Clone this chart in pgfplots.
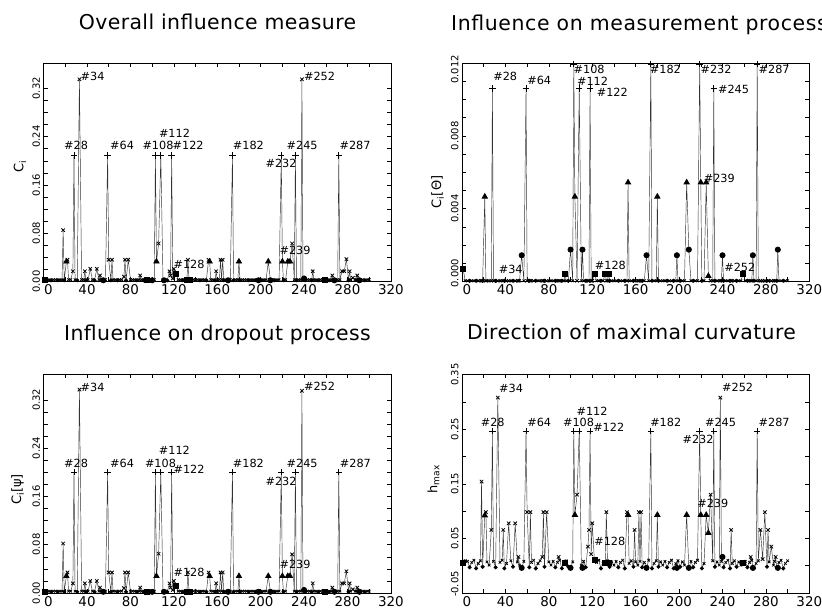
\documentclass[border=0pt]{standalone}
\usepackage{pgfplots}
\usepackage{pgfplotstable}
\pgfplotsset{compat=1.18}
\usepackage{fontspec}
\setmainfont{DejaVu Sans}

\newcommand\xtf{\fontsize{13.5}{15}\selectfont}
\newcommand\ytf{\fontsize{10}{12}\selectfont}
\newcommand\ylf{\fontsize{13}{15}\selectfont}
\newcommand\labf{\fontsize{11.3}{13}\selectfont}
\newcommand\ttlf{\fontsize{20.5}{24}\selectfont\addfontfeature{LetterSpace=2}}

% x  class  a=overall  b=measurement  d=dropout  h=hmax
\pgfplotstableread{
x c a b d h
1 S 0.002 0.0007 0.002 0.006
3 B 0.003 0.00004 0.003 0.009
5 B 0.003 0.00004 0.003 0.008
7 D 0.002 0.00004 0.002 -0.003
9 B 0.003 0.00004 0.003 0.006
11 B 0.003 0.00004 0.003 0.010
13 D 0.002 0.00004 0.002 -0.005
15 B 0.003 0.00004 0.003 0.004
17 B 0.003 0.00004 0.003 0.009
18 X 0.085 0.00004 0.082 0.154
19 D 0.002 0.00004 0.002 -0.002
21 T 0.033 0.00466 0.028 0.092
22 X 0.036 0.00004 0.034 0.098
23 B 0.003 0.00004 0.003 0.007
25 B 0.003 0.00004 0.003 0.001
27 X 0.017 0.00004 0.016 0.0655
28 P 0.209 0.0106 0.200 0.2465
29 B 0.003 0.00004 0.003 0.008
31 D 0.002 0.00004 0.002 -0.003
33 X 0.335 0.00004 0.337 0.3077
35 B 0.003 0.00004 0.003 0.006
37 B 0.003 0.00004 0.003 0.010
38 X 0.017 0.00004 0.016 0.0655
39 D 0.002 0.00004 0.002 -0.005
41 B 0.003 0.00004 0.003 0.004
43 X 0.021 0.00004 0.020 0.0776
45 B 0.003 0.00004 0.003 0.009
47 D 0.002 0.00004 0.002 -0.002
49 X 0.021 0.00004 0.020 0.0776
51 B 0.003 0.00004 0.003 0.007
52 X 0.010 0.00004 0.009 0.016
53 B 0.003 0.00004 0.003 0.001
55 O 0.002 0.00144 0.002 -0.004
57 B 0.003 0.00004 0.003 0.008
59 P 0.209 0.0106 0.200 0.2465
60 X 0.036 0.00004 0.034 0.098
62 D 0.002 0.00004 0.002 -0.003
63 X 0.036 0.00004 0.034 0.098
64 B 0.003 0.00004 0.003 0.006
66 B 0.003 0.00004 0.003 0.010
68 D 0.002 0.00004 0.002 -0.005
70 B 0.003 0.00004 0.003 0.004
72 B 0.003 0.00004 0.003 0.009
74 X 0.008 0.00004 0.008 0.016
75 X 0.036 0.00004 0.034 0.098
76 D 0.002 0.00004 0.002 -0.002
78 X 0.036 0.00004 0.034 0.098
80 B 0.003 0.00004 0.003 0.007
82 B 0.003 0.00004 0.003 0.001
84 B 0.003 0.00004 0.003 0.008
86 D 0.002 0.00004 0.002 -0.003
88 B 0.003 0.00004 0.003 0.006
89 X 0.010 0.00004 0.009 0.016
90 B 0.003 0.00004 0.003 0.010
92 D 0.002 0.00004 0.002 -0.005
94 B 0.003 0.00004 0.003 0.004
95 S 0.002 0.00043 0.002 0.005
96 B 0.003 0.00004 0.003 0.009
98 D 0.002 0.00004 0.002 -0.002
100 O 0.002 0.00175 0.002 -0.004
102 B 0.003 0.00004 0.003 0.007
103 P 0.209 0.01195 0.200 0.2465
104 T 0.033 0.00466 0.028 0.093
106 X 0.063 0.00004 0.065 0.130
108 P 0.209 0.0106 0.200 0.2465
110 B 0.003 0.00004 0.003 0.001
111 O 0.002 0.00175 0.002 -0.004
112 B 0.003 0.00004 0.003 0.008
114 D 0.002 0.00004 0.002 -0.003
116 X 0.017 0.00004 0.016 0.035
117 X 0.010 0.00004 0.009 0.0655
118 P 0.209 0.0106 0.200 0.2465
119 X 0.005 0.00004 0.005 0.021
120 X 0.021 0.00004 0.020 0.0776
122 S 0.012 0.00043 0.012 0.010
124 B 0.003 0.00004 0.003 0.006
126 B 0.003 0.00004 0.003 0.010
128 D 0.002 0.00004 0.002 -0.005
130 B 0.003 0.00004 0.003 0.004
132 S 0.002 0.00043 0.002 0.005
133 X 0.036 0.00004 0.034 0.098
134 B 0.003 0.00004 0.003 0.009
135 S 0.002 0.00043 0.002 0.005
136 D 0.002 0.00004 0.002 -0.002
138 B 0.003 0.00004 0.003 0.007
140 B 0.003 0.00004 0.003 0.001
142 B 0.003 0.00004 0.003 0.008
144 D 0.002 0.00004 0.002 -0.003
146 B 0.003 0.00004 0.003 0.006
148 B 0.003 0.00004 0.003 0.010
150 D 0.002 0.00004 0.002 -0.005
152 X 0.036 0.00004 0.034 0.098
153 T 0.033 0.00544 0.028 0.093
154 B 0.003 0.00004 0.003 0.004
156 B 0.003 0.00004 0.003 0.009
158 D 0.002 0.00004 0.002 -0.002
159 X 0.017 0.00004 0.016 0.0655
160 B 0.003 0.00004 0.003 0.007
162 B 0.003 0.00004 0.003 0.001
163 X 0.036 0.00004 0.034 0.098
164 B 0.003 0.00004 0.003 0.008
165 X 0.036 0.00004 0.034 0.098
166 D 0.002 0.00004 0.002 -0.003
168 B 0.003 0.00004 0.003 0.006
170 O 0.002 0.00144 0.002 -0.004
172 B 0.003 0.00004 0.003 0.010
174 P 0.209 0.01195 0.200 0.2465
175 D 0.002 0.00004 0.002 -0.005
177 B 0.003 0.00004 0.003 0.004
179 B 0.003 0.00004 0.003 0.009
180 T 0.033 0.00466 0.028 0.093
181 D 0.002 0.00004 0.002 -0.002
183 B 0.003 0.00004 0.003 0.007
185 B 0.003 0.00004 0.003 0.001
187 B 0.003 0.00004 0.003 0.008
189 D 0.002 0.00004 0.002 -0.003
191 B 0.003 0.00004 0.003 0.006
193 B 0.003 0.00004 0.003 0.010
195 D 0.002 0.00004 0.002 -0.005
197 B 0.003 0.00004 0.003 0.004
198 O 0.002 0.00144 0.002 -0.004
199 B 0.003 0.00004 0.003 0.009
201 D 0.002 0.00004 0.002 -0.002
203 B 0.003 0.00004 0.003 0.007
205 B 0.003 0.00004 0.003 0.001
207 T 0.033 0.00544 0.028 0.093
209 O 0.002 0.00175 0.002 -0.004
211 B 0.003 0.00004 0.003 0.008
213 D 0.002 0.00004 0.002 -0.003
215 B 0.003 0.00004 0.003 0.006
217 B 0.003 0.00004 0.003 0.010
219 P 0.209 0.01195 0.200 0.2465
220 T 0.033 0.00544 0.028 0.093
221 D 0.002 0.00004 0.002 -0.005
223 B 0.003 0.00004 0.003 0.004
225 T 0.033 0.00544 0.028 0.093
227 T 0.033 0.0003 0.028 0.060
229 X 0.063 0.00004 0.064 0.130
231 B 0.003 0.00004 0.003 0.009
232 P 0.209 0.0106 0.200 0.2465
233 D 0.002 0.00004 0.002 -0.002
235 B 0.003 0.00004 0.003 0.007
237 B 0.003 0.00004 0.003 0.001
238 X 0.335 0.00004 0.335 0.3077
239 B 0.003 0.00004 0.003 0.008
240 O 0.005 0.00144 0.005 0.016
241 D 0.002 0.00004 0.002 -0.003
243 B 0.003 0.00004 0.003 0.006
245 B 0.003 0.00004 0.003 0.010
247 D 0.002 0.00004 0.002 -0.005
248 X 0.017 0.00004 0.016 0.0655
249 B 0.003 0.00004 0.003 0.004
251 B 0.003 0.00004 0.003 0.009
253 D 0.002 0.00004 0.002 -0.002
255 B 0.003 0.00004 0.003 0.007
257 B 0.003 0.00004 0.003 0.001
259 S 0.002 0.00043 0.002 0.005
261 B 0.003 0.00004 0.003 0.008
263 D 0.002 0.00004 0.002 -0.003
265 B 0.003 0.00004 0.003 0.006
266 X 0.010 0.00004 0.009 0.016
267 B 0.003 0.00004 0.003 0.010
268 O 0.002 0.00144 0.002 -0.004
269 D 0.002 0.00004 0.002 -0.005
271 B 0.003 0.00004 0.003 0.004
272 P 0.209 0.01195 0.200 0.2465
273 B 0.003 0.00004 0.003 0.009
275 X 0.017 0.00004 0.016 0.0655
277 X 0.017 0.00004 0.016 0.012
279 X 0.037 0.00004 0.036 0.098
281 D 0.002 0.00004 0.002 -0.002
282 X 0.017 0.00004 0.016 0.0655
283 B 0.003 0.00004 0.003 0.007
285 X 0.006 0.00004 0.006 0.035
287 B 0.003 0.00004 0.003 0.001
288 B 0.003 0.00004 0.003 0.008
289 X 0.010 0.00004 0.009 0.016
290 D 0.002 0.00004 0.002 -0.003
291 O 0.002 0.00175 0.002 -0.004
292 B 0.003 0.00004 0.003 0.006
294 B 0.003 0.00004 0.003 0.010
296 D 0.002 0.00004 0.002 -0.005
298 B 0.003 0.00004 0.003 0.004
300 B 0.003 0.00004 0.003 0.009
}\data

\pgfplotsset{
  panel/.style={
    scale only axis, anchor=south west,
    width=347.3bp, height=218.5bp,
    xmin=0, xmax=320,
    xtick={0,40,80,120,160,200,240,280,320},
    xticklabels={\makebox[0pt][l]{\hspace{0.5pt}0},40,80,120,160,200,240,280,320},
    minor x tick num=1,
    scaled y ticks=false,
    tick align=inside,
    major tick length=4bp, minor tick length=4bp,
    tick style={black, line width=0.5pt},
    axis line style={line width=0.7pt},
    xticklabel style={font=\xtf},
    yticklabel style={font=\ytf, rotate=90, anchor=south},
    ylabel style={font=\ylf, anchor=center},
    clip=true,
  },
  ln/.style={black!80, line width=0.45pt, mark=none},
  sc/.style={scatter, only marks, line width=0.8pt,
    point meta=explicit symbolic,
    scatter/classes={
      P={mark=+, mark size=3.2bp, black},
      X={mark=x, mark size=2.4bp, black},
      T={mark=triangle*, mark size=3bp, black},
      O={mark=*, mark size=2.6bp, black},
      S={mark=square*, mark size=2.5bp, black},
      B={mark=x, mark size=1.8bp, black},
      D={mark=*, mark size=1.6bp, black}}},
}
\tikzset{lab/.style={font=\labf, inner sep=0pt}}

\begin{document}
\begin{tikzpicture}
\path[use as bounding box] (0,0) rectangle (822bp,610bp);

% Panel 1: Overall influence
\begin{axis}[panel, at={(43.6bp,328.5bp)},
  ymin=0, ymax=0.362,
  ytick={0,0.08,0.16,0.24,0.32}, yticklabels={0.00,0.08,0.16,0.24,0.32},
  minor y tick num=3,
  ylabel={C\textsubscript{i}},
  ylabel style={at={(axis description cs:-0.068,0.527)}}]
\addplot[ln] table[x=x,y=a]{\data};
\addplot[sc] table[x=x,y=a,meta=c]{\data};
\node[lab] at (axis cs:45.1,0.340) {\#34};
\node[lab] at (axis cs:29.9,0.2253) {\#28};
\node[lab] at (axis cs:72.3,0.2258) {\#64};
\node[lab] at (axis cs:105.4,0.2258) {\#108};
\node[lab] at (axis cs:120.6,0.2459) {\#112};
\node[lab] at (axis cs:133.2,0.2258) {\#122};
\node[lab] at (axis cs:188.7,0.2258) {\#182};
\node[lab] at (axis cs:218.8,0.1963) {\#232};
\node[lab] at (axis cs:238.2,0.2258) {\#245};
\node[lab] at (axis cs:254.3,0.340) {\#252};
\node[lab] at (axis cs:287.0,0.2258) {\#287};
\node[lab] at (axis cs:231.7,0.0512) {\#239};
\node[lab] at (axis cs:134.0,0.029) {\#128};
\end{axis}

% Panel 2: measurement process
\begin{axis}[panel, at={(462bp,328.5bp)},
  ymin=0, ymax=0.012,
  ytick={0,0.004,0.008,0.012},
  yticklabels={\makebox[0pt][l]{\hspace{-6pt}0.000},0.004,0.008,\makebox[0pt][r]{0.012\hspace{-8pt}}},
  minor y tick num=3,
  ylabel={C\textsubscript{i}[Θ]},
  ylabel style={at={(axis description cs:-0.07,0.41)}}]
\addplot[ln] table[x=x,y=b]{\data};
\addplot[sc] table[x=x,y=b,meta=c]{\data};
\node[lab] at (axis cs:39.8,0.01126) {\#28};
\node[lab] at (axis cs:71.2,0.01106) {\#64};
\node[lab] at (axis cs:117.2,0.01163) {\#108};
\node[lab] at (axis cs:120.3,0.01102) {\#112};
\node[lab] at (axis cs:138.5,0.01041) {\#122};
\node[lab] at (axis cs:187.4,0.01163) {\#182};
\node[lab] at (axis cs:234.1,0.01163) {\#232};
\node[lab] at (axis cs:250.2,0.01056) {\#245};
\node[lab] at (axis cs:287.6,0.01163) {\#287};
\node[lab] at (axis cs:237.1,0.00564) {\#239};
\node[lab] at (axis cs:44.9,0.00065) {\#34};
\node[lab] at (axis cs:136.7,0.00088) {\#128};
\node[lab] at (axis cs:256.0,0.00079) {\#252};
\end{axis}

% Panel 3: dropout process
\begin{axis}[panel, at={(43.6bp,17bp)},
  ymin=0, ymax=0.362,
  ytick={0,0.08,0.16,0.24,0.32}, yticklabels={0.00,0.08,0.16,0.24,0.32},
  minor y tick num=3,
  ylabel={C\textsubscript{i}[ψ]},
  ylabel style={at={(axis description cs:-0.075,0.474)}}]
\addplot[ln] table[x=x,y=d]{\data};
\addplot[sc] table[x=x,y=d,meta=c]{\data};
\node[lab] at (axis cs:45.1,0.340) {\#34};
\node[lab] at (axis cs:29.9,0.215) {\#28};
\node[lab] at (axis cs:72.3,0.215) {\#64};
\node[lab] at (axis cs:107.7,0.215) {\#108};
\node[lab] at (axis cs:120.5,0.237) {\#112};
\node[lab] at (axis cs:134.0,0.205) {\#122};
\node[lab] at (axis cs:188.7,0.215) {\#182};
\node[lab] at (axis cs:218.8,0.185) {\#232};
\node[lab] at (axis cs:238.2,0.215) {\#245};
\node[lab] at (axis cs:254.3,0.343) {\#252};
\node[lab] at (axis cs:287.3,0.215) {\#287};
\node[lab] at (axis cs:231.7,0.048) {\#239};
\node[lab] at (axis cs:134.0,0.034) {\#128};
\end{axis}

% Panel 4: direction of maximal curvature
\begin{axis}[panel, at={(462bp,17bp)},
  ymin=-0.05, ymax=0.35,
  ytick={-0.05,0.05,0.15,0.25,0.35},
  yticklabels={\makebox[0pt][l]{\hspace{-4pt}-0.05},0.05,0.15,0.25,0.35},
  minor y tick num=1,
  ylabel={h\textsubscript{max}},
  ylabel style={at={(axis description cs:-0.082,0.521)}}]
\addplot[ln] table[x=x,y=h]{\data};
\addplot[sc] table[x=x,y=h,meta=c]{\data};
\node[lab] at (axis cs:45.2,0.324) {\#34};
\node[lab] at (axis cs:28.3,0.2623) {\#28};
\node[lab] at (axis cs:71.2,0.2623) {\#64};
\node[lab] at (axis cs:107.4,0.2623) {\#108};
\node[lab] at (axis cs:119.8,0.2828) {\#112};
\node[lab] at (axis cs:135.2,0.2532) {\#122};
\node[lab] at (axis cs:187.7,0.2623) {\#182};
\node[lab] at (axis cs:217.5,0.2314) {\#232};
\node[lab] at (axis cs:238.2,0.2623) {\#245};
\node[lab] at (axis cs:254.0,0.3259) {\#252};
\node[lab] at (axis cs:287.6,0.2623) {\#287};
\node[lab] at (axis cs:231.1,0.114) {\#239};
\node[lab] at (axis cs:136.2,0.0437) {\#128};
\end{axis}

\node[font=\ttlf, anchor=base] at (217.5bp,580.7bp) {Overall influence measure};
\node[font=\ttlf, anchor=base west, inner sep=0pt] at (451bp,579.3bp) {\addfontfeature{LetterSpace=3}Influence on measurement process};
\node[font=\ttlf, anchor=base] at (217.5bp,269bp) {Influence on dropout process};
\node[font=\ttlf, anchor=base] at (631.5bp,270bp) {Direction of maximal curvature};
\end{tikzpicture}
\end{document}
